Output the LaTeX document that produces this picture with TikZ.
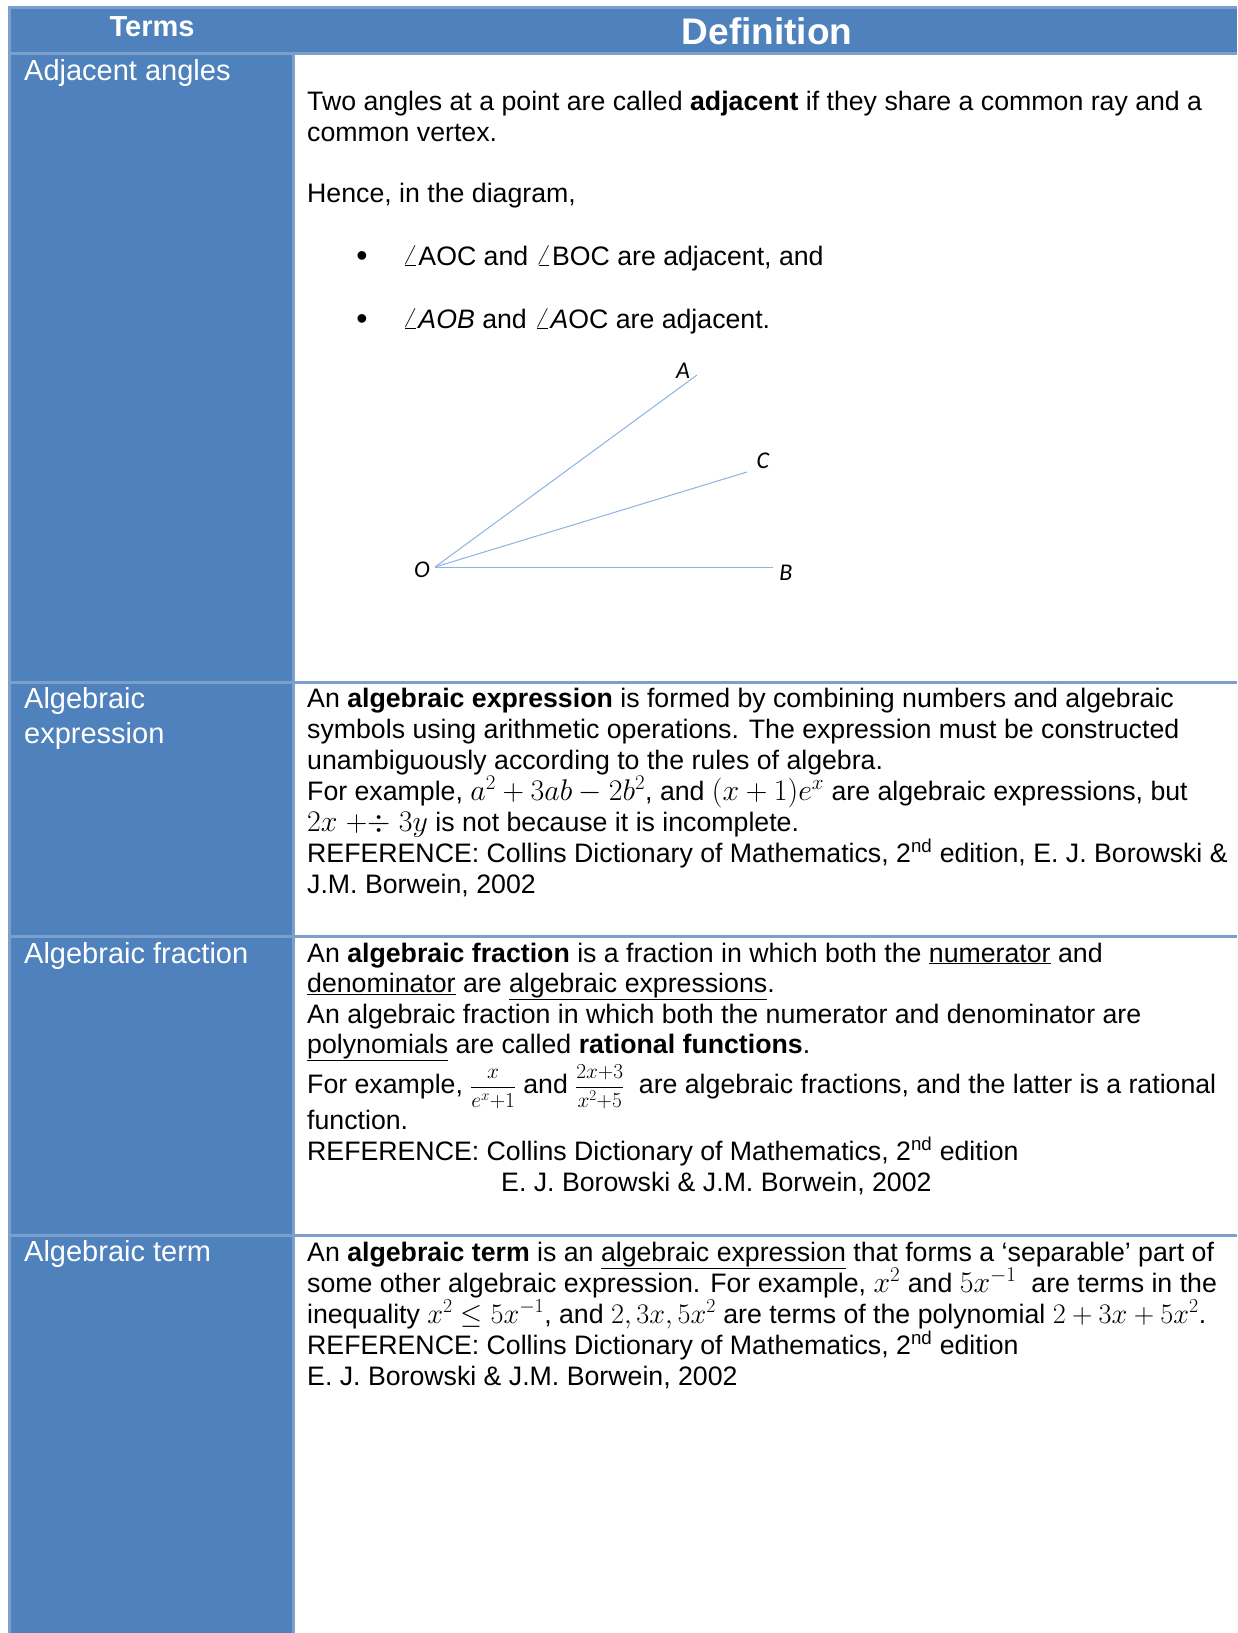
\RequirePackage{fix-cm}
\documentclass[tikz,border=0pt]{standalone}
\usepackage{graphicx}
\usepackage[no-math]{fontspec}
\setmainfont{Liberation Sans}
\newfontfamily\carlito{Carlito}
\definecolor{hdr}{HTML}{4F81BD}
\definecolor{bord}{HTML}{7BA0CD}
\definecolor{raycol}{HTML}{8DB3E2}
\newcommand{\myfrac}[2]{\smash{\raisebox{0.5pt}{\scalebox{0.8}{$\displaystyle\frac{#1}{#2}$}}}}
\newcommand{\mm}[2][1.12]{\smash{\scalebox{#1}{$#2$}}}
\tikzset{
  body/.style={anchor=base west, inner sep=0pt, font=\fontsize{26.7}{31}\selectfont},
  lab/.style={anchor=base west, inner sep=0pt, text=white, font=\fontsize{29}{34}\selectfont},
  headtxt/.style={anchor=base, inner sep=0pt, text=white},
  bulletmark/.style={anchor=base, inner sep=0pt, font=\fontsize{32}{34}\selectfont},
  ptlab/.style={inner sep=0pt, font=\fontsize{24}{28}\selectfont\carlito\itshape},
  ray/.style={draw=raycol, line width=1pt},
  rule/.style={draw=bord, line width=3pt}
}
\begin{document}
\begin{tikzpicture}[x=1pt,y=-1pt]
\useasboundingbox (0,0) rectangle (1237,1633);
\fill[white] (0,0) rectangle (1237,1633);
% header band and left column
\fill[hdr] (8,6) rectangle (1237,54);
\fill[hdr] (8,54) rectangle (293,1633);
% borders
\draw[rule] (8,7.5) -- (1237,7.5);
\draw[rule] (9.5,6) -- (9.5,1633);
\draw[rule] (8,53.5) -- (1237,53.5);
\draw[rule] (293.5,53) -- (293.5,1633);
\draw[rule] (8,682.5) -- (1237,682.5);
\draw[rule] (8,936.5) -- (1237,936.5);
\draw[rule] (8,1235.5) -- (1237,1235.5);
% header
\node[headtxt, font=\fontsize{29}{34}\selectfont\bfseries] (hterms) at (152,36) {Terms};
\node[headtxt, font=\fontsize{37}{42}\selectfont\bfseries] (hdef) at (767,44) {Definition};
% left labels
\node[lab] (t1) at (24,80.7) {Adjacent angles};
\node[lab] (t2a) at (24,708.7) {Algebraic};
\node[lab] (t2b) at (24,743) {expression};
\node[lab] (t3) at (24,963.8) {Algebraic fraction};
\node[lab] (t4) at (24,1261) {Algebraic term};
% row 1
\node[body] (r1a) at (307,110) {Two angles at a point are called \textbf{adjacent} if they share a common ray and a};
\node[body] (r1b) at (307,141) {common vertex.};
\node[body] (r1c) at (307,202) {Hence, in the diagram,};
\node[bulletmark] (bu1) at (362,266) {•};
\node[body] (r1d) at (402,265) {\mm{\angle}AOC and \mm{\angle}BOC are adjacent, and};
\node[bulletmark] (bu2) at (362,329) {•};
\node[body] (r1e) at (402,328) {\mm{\angle}\textit{AOB} and \mm{\angle}\textit{A}OC are adjacent.};
% angle diagram
\coordinate (O) at (435,567);
\coordinate (A) at (697,375);
\coordinate (C) at (747,472);
\coordinate (B) at (773,567);
\draw[ray] (O) -- (A);
\draw[ray] (O) -- (C);
\draw[ray] (O) -- (B);
\node[ptlab] (lA) at (683,371) {A};
\node[ptlab] (lC) at (763,461) {C};
\node[ptlab] (lO) at (422,570) {O};
\node[ptlab] (lB) at (786,573) {B};
% row 2
\node[body] (r2a) at (307,707.5) {An \textbf{algebraic expression} is formed by combining numbers and algebraic};
\node[body] (r2b) at (307,738.5) {symbols using arithmetic operations. The expression must be constructed};
\node[body] (r2c) at (307,769.5) {unambiguously according to the rules of algebra.};
\node[body] (r2d) at (307,800.5) {For example, \mm{a^2+3ab-2b^2}, and \mm{(x+1)e^x} are algebraic expressions, but};
\node[body] (r2e) at (307,831.5) {\mm{2x \mathrel{+}\mathrel{\div} 3y} is not because it is incomplete.};
\node[body] (r2f) at (307,862.5) {REFERENCE: Collins Dictionary of Mathematics, 2\textsuperscript{nd} edition, E. J. Borowski \&};
\node[body] (r2g) at (307,893.5) {J.M. Borwein, 2002};
% row 3
\node[body] (r3a) at (307,962) {An \textbf{algebraic fraction} is a fraction in which both the \underline{numerator} and};
\node[body] (r3b) at (307,992.5) {\underline{denominator} are \underline{algebraic expressions}.};
\node[body] (r3c) at (307,1023) {An algebraic fraction in which both the numerator and denominator are};
\node[body] (r3d) at (307,1053) {\underline{polynomials} are called \textbf{rational functions}.};
\node[body] (r3e) at (307,1093) {For example, \myfrac{x}{e^x{+}1} and \myfrac{2x{+}3}{x^2{+}5}\ \ are algebraic fractions, and the latter is a rational};
\node[body] (r3f) at (307,1129.5) {function.};
\node[body] (r3g) at (307,1160.5) {REFERENCE: Collins Dictionary of Mathematics, 2\textsuperscript{nd} edition};
\node[body] (r3h) at (501,1191) {E. J. Borowski \& J.M. Borwein, 2002};
% row 4
\node[body] (r4a) at (307,1261) {An \textbf{algebraic term} is an \underline{algebraic expression} that forms a ‘separable’ part of};
\node[body] (r4b) at (307,1292) {some other algebraic expression. For example, \mm{x^2} and \mm{5x^{-1}}\ \ are terms in the};
\node[body] (r4c) at (307,1323) {inequality \mm[1.06]{x^2\leq 5x^{-1}}, and \mm[1.06]{2, 3x, 5x^2} are terms of the polynomial \mm[1.06]{2+3x+5x^2}.};
\node[body] (r4d) at (307,1354) {REFERENCE: Collins Dictionary of Mathematics, 2\textsuperscript{nd} edition};
\node[body] (r4e) at (307,1385) {E. J. Borowski \& J.M. Borwein, 2002};
\end{tikzpicture}
\end{document}
